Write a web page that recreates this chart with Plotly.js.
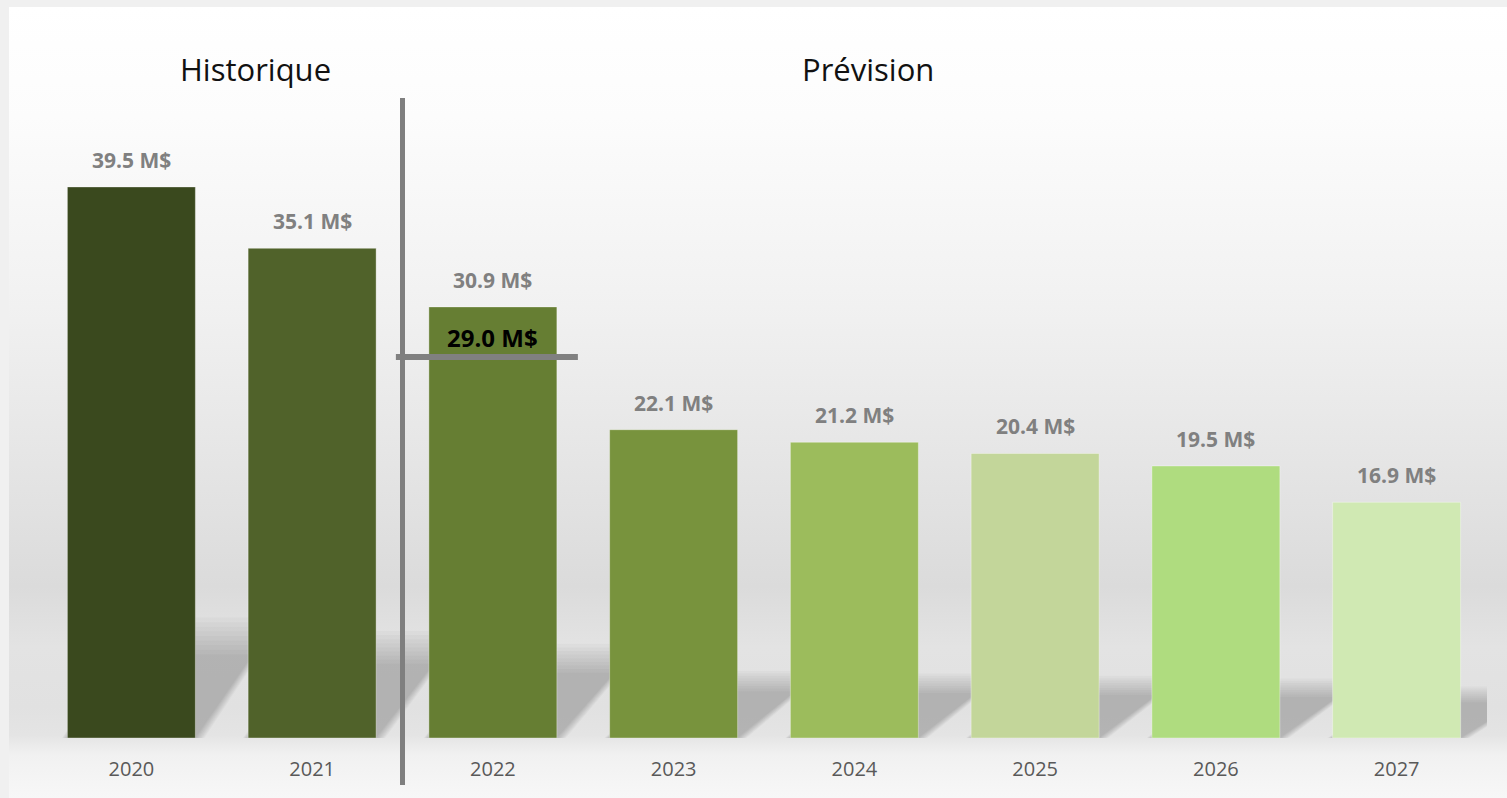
<!DOCTYPE html>
<html>
<head>
<meta charset="utf-8">
<script src="https://cdn.plot.ly/plotly-3.0.1.min.js"></script>
<style>
  html, body { margin: 0; padding: 0; width: 1507px; height: 798px; overflow: hidden; background: #f0f0f0; }
  #bg { position: absolute; left: 9px; top: 7px; width: 1498px; height: 791px;
        background: linear-gradient(to bottom, #ffffff 0px, #fcfcfc 110px, #f1f1f1 300px, #e4e4e4 470px, #dbdbdb 580px, #e3e3e3 640px, #e1e1e1 700px, #e4e4e4 728px, #f1f1f1 748px, #f7f7f7 791px); }
  #chart { position: absolute; left: 0; top: 0; width: 1507px; height: 798px; }
</style>
</head>
<body>
<div id="bg"></div>
<div id="chart"></div>
<script>
// ---- data ----
const years = ['2020', '2021', '2022', '2023', '2024', '2025', '2026', '2027'];
const values = [39.5, 35.1, 30.9, 22.1, 21.2, 20.4, 19.5, 16.9];
const barColors = ['#3a491e', '#50622a', '#667e33', '#78933d', '#9cbc5c', '#c3d69a', '#afdc7f', '#d0e9b3'];
const targetValue = 29.0;
const targetIndex = 2;
const dividerPosition = 1.5;
const sectionTitles = ['Historique', 'Prévision'];
const unit = ' M$';

// ---- build ----
const xs = years.map((_, i) => i);
const barWidth = 0.708;
const fontFamily = '"Open Sans", "Noto Sans", sans-serif';

const barTrace = {
  type: 'bar',
  x: xs,
  y: values,
  width: barWidth,
  marker: { color: barColors, line: { color: 'rgba(255,255,255,0.35)', width: 1 } },
  hoverinfo: 'skip',
  showlegend: false
};

const shapes = [];
// soft perspective shadows behind bars (layered to fake a blur)
const layers = 9;
values.forEach((v, i) => {
  const L = i - barWidth / 2, R = i + barWidth / 2;
  const h = 0.19 * v;
  for (let k = 0; k < layers; k++) {
    const g = k / (layers - 1);          // 0..1
    const hk = h * (0.8 + 0.35 * g);
    const dx = 0.32 + 0.12 * g;
    const l = L - 0.03 * g, r = R + 0.05 * g;
    shapes.push({
      type: 'path', xref: 'x', yref: 'y', layer: 'below',
      path: `M ${l},0 L ${r},0 L ${r + dx},${hk} L ${l + dx},${hk} Z`,
      fillcolor: 'rgba(0,0,0,0.022)', line: { width: 0 }
    });
  }
});
// divider between history and forecast
shapes.push({
  type: 'line', xref: 'x', x0: dividerPosition, x1: dividerPosition,
  yref: 'paper', ysizemode: 'pixel', yanchor: 0, y0: -47, y1: 640,
  line: { color: '#7f7f7f', width: 5 }
});
// target marker
shapes.push({
  type: 'line', xref: 'x', xsizemode: 'pixel', xanchor: targetIndex, x0: -97, x1: 85,
  yref: 'y', ysizemode: 'pixel', yanchor: targetValue, y0: -23.5, y1: -23.5,
  line: { color: '#808080', width: 6 }
});

const annotations = values.map((v, i) => ({
  x: i, y: v, xref: 'x', yref: 'y',
  text: v.toFixed(1) + unit,
  showarrow: false, yanchor: 'middle', yshift: 27,
  font: { family: fontFamily, size: 21, color: '#808080', weight: 'bold' }
}));
annotations.push({
  x: targetIndex, y: targetValue, xref: 'x', yref: 'y',
  text: targetValue.toFixed(1) + unit,
  showarrow: false, yanchor: 'middle', yshift: -4.5,
  font: { family: fontFamily, size: 24, color: '#000000', weight: 'bold' }
});
annotations.push({
  x: 0.148, y: 0.907, xref: 'paper', yref: 'paper', text: sectionTitles[0],
  showarrow: false, xanchor: 'center', yanchor: 'middle',
  font: { family: fontFamily, size: 31, color: '#111111' }
});
annotations.push({
  x: 0.572, y: 0.907, xref: 'paper', yref: 'paper', text: sectionTitles[1],
  showarrow: false, xanchor: 'center', yanchor: 'middle',
  font: { family: fontFamily, size: 31, color: '#111111' }
});

const layout = {
  width: 1507, height: 798,
  margin: { l: 41, r: 20, t: 0, b: 60 },
  paper_bgcolor: 'rgba(0,0,0,0)',
  plot_bgcolor: 'rgba(0,0,0,0)',
  xaxis: {
    range: [-0.5, 7.5], tickvals: xs, ticktext: years,
    showgrid: false, zeroline: false, showline: false, ticks: '',
    ticklabelstandoff: 17,
    tickfont: { family: fontFamily, size: 20, color: '#595959' }
  },
  yaxis: { range: [0, 52.9], visible: false, showgrid: false, zeroline: false },
  bargap: 0.29,
  shapes: shapes,
  annotations: annotations,
  showlegend: false
};

Plotly.newPlot('chart', [barTrace], layout, { displayModeBar: false, staticPlot: true });
</script>
</body>
</html>
